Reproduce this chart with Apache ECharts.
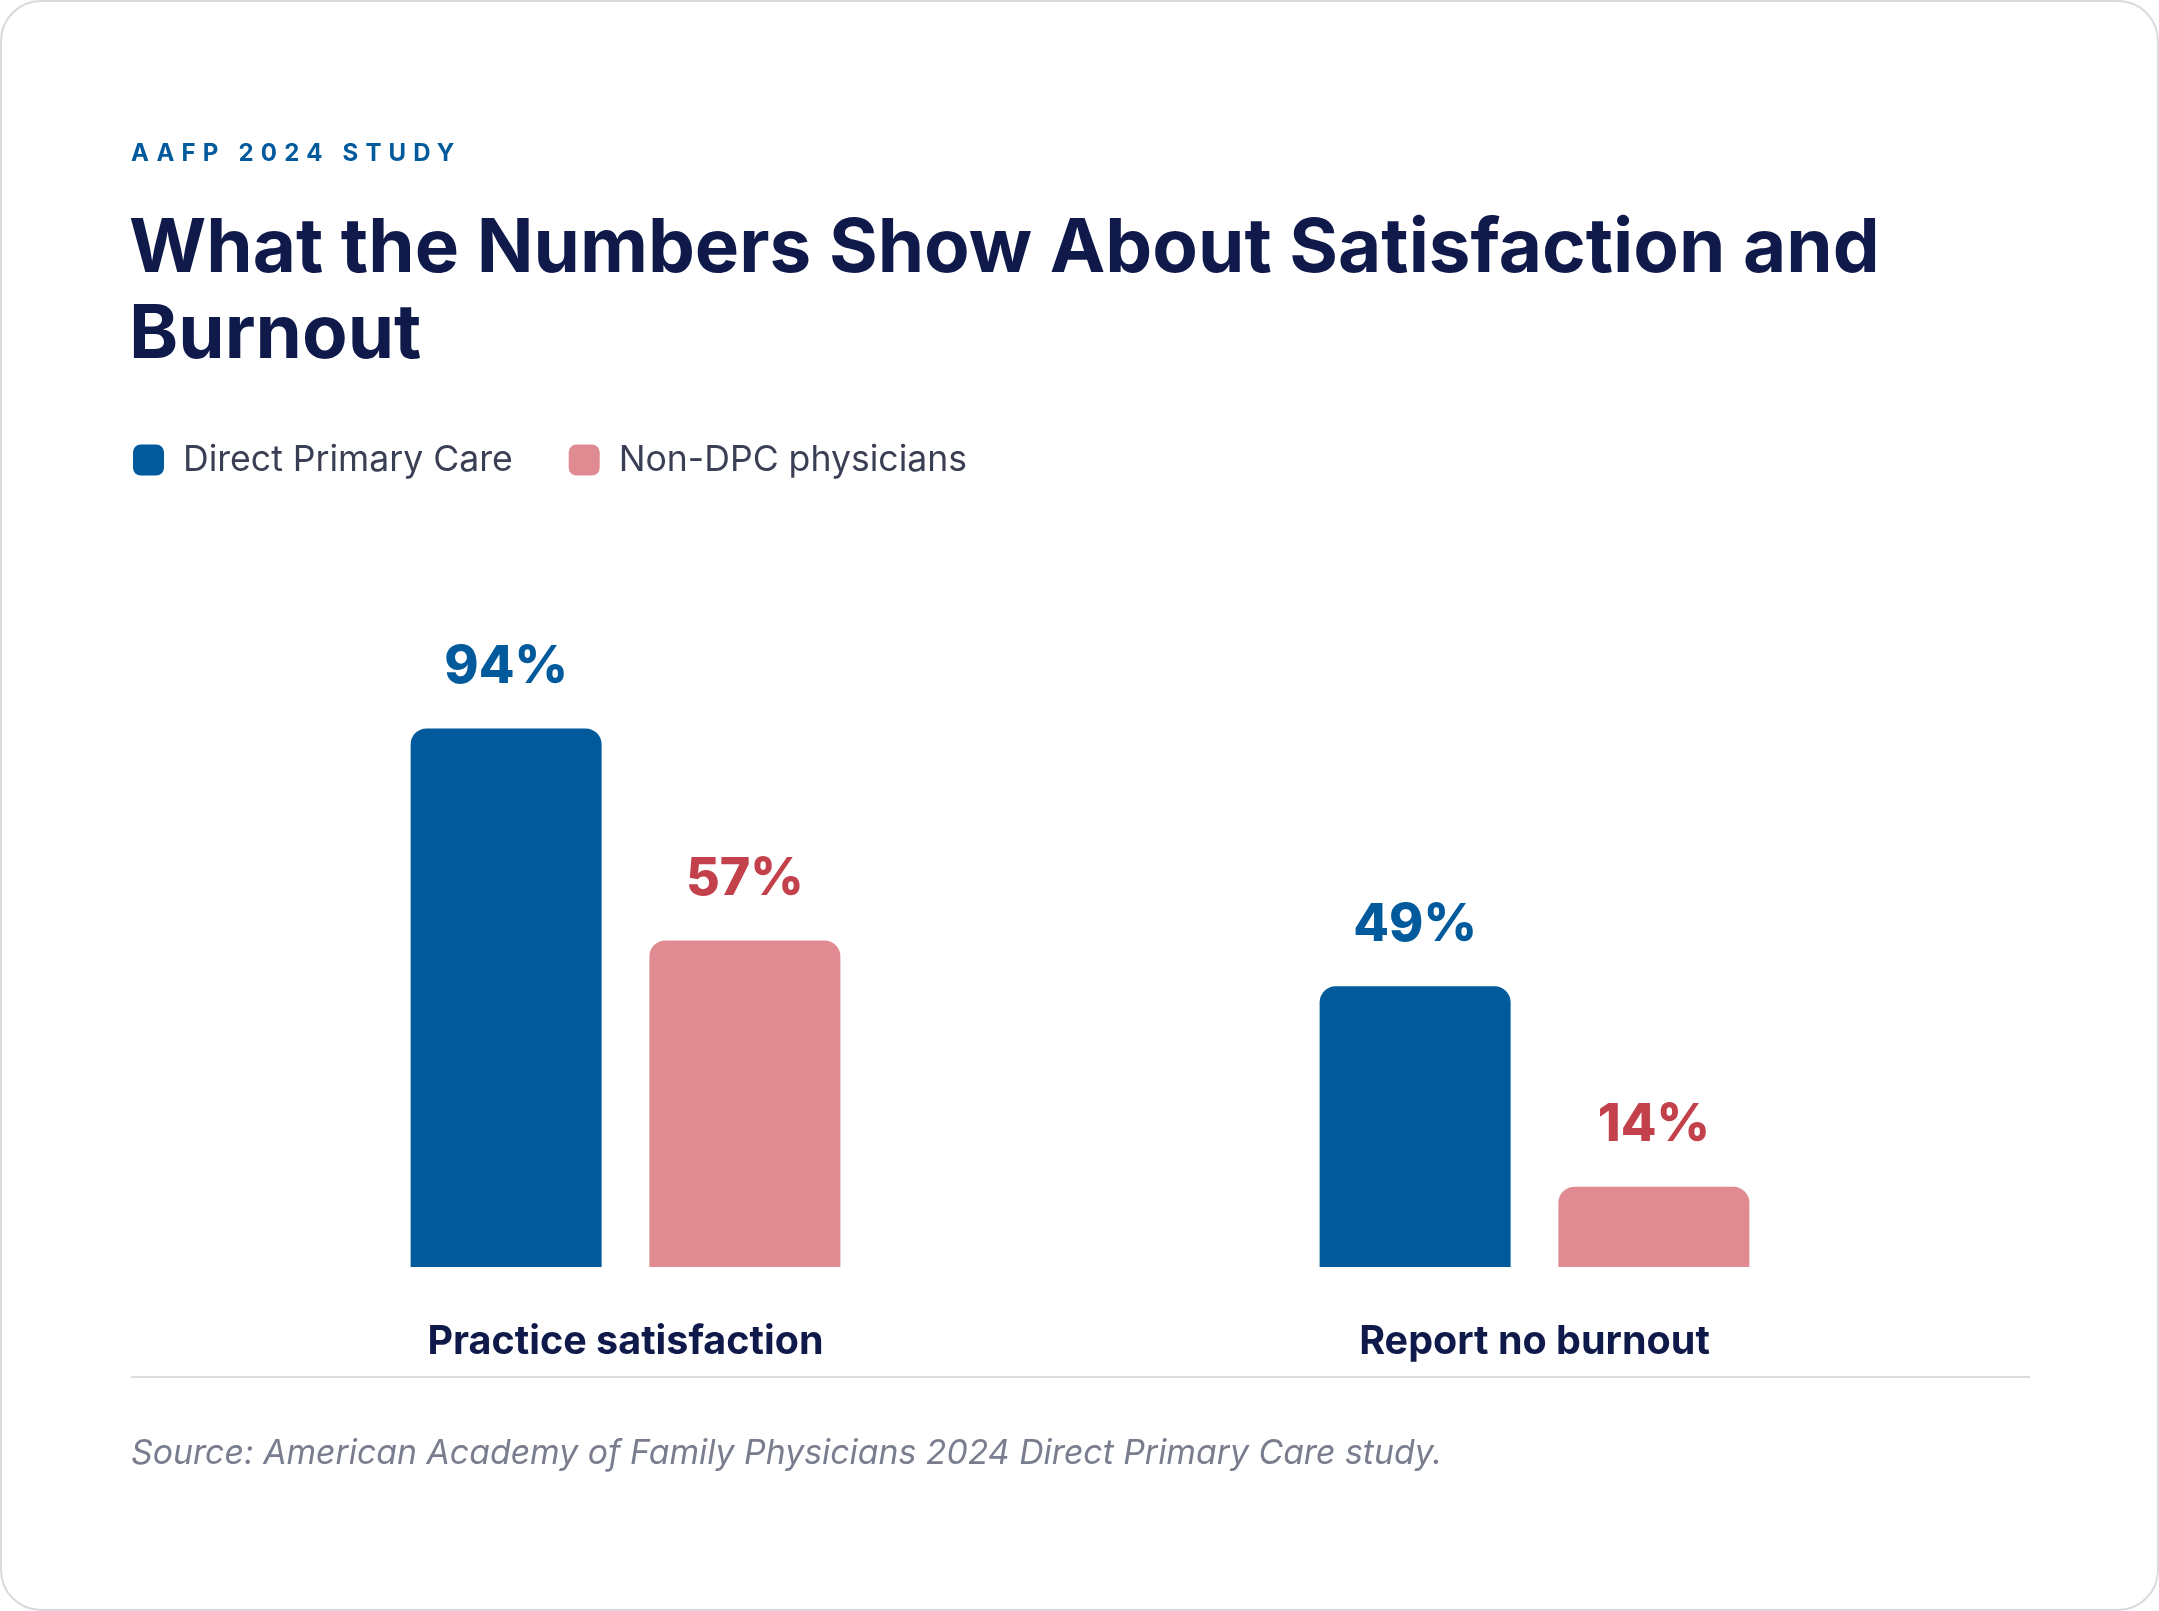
<!DOCTYPE html>
<html><head><meta charset="utf-8">
<script src="https://cdn.jsdelivr.net/npm/echarts@6/dist/echarts.min.js"></script>
<style>html,body{margin:0;padding:0;background:#fff}#c{width:2159px;height:1611px}
#k{position:absolute;left:131px;top:138px;font:700 24px Inter,'Noto Sans',sans-serif;letter-spacing:7.2px;color:#005a9c;z-index:5}</style>
</head><body><div id="k">AAFP 2024 STUDY</div><div id="c"></div>
<script>
const categories = ["Practice satisfaction", "Report no burnout"];
const dpcValues = [94, 49];
const nonDpcValues = [57, 14];
const seriesNames = ["Direct Primary Care", "Non-DPC physicians"];

const F = "Inter, 'Noto Sans', sans-serif";
const navy = "#0f1a4b", blue = "#005a9c", pink = "#df8b91", red = "#c3414b";
const chart = echarts.init(document.getElementById('c'));
chart.setOption({
  animation: false,
  graphic: [
    {type:'rect', shape:{x:1,y:1,width:2157,height:1609,r:40}, style:{fill:'#fff',stroke:'#d9d9de',lineWidth:2}, z:-10},
    {type:'text', left:129, top:207, style:{text:'What the Numbers Show About Satisfaction and\nBurnout', fill:navy, font:'700 74.5px '+F, lineHeight:86}},
    {type:'line', shape:{x1:131,y1:1377,x2:2030,y2:1377}, style:{stroke:'#dcdce2',lineWidth:2}},
    {type:'text', left:131, top:1437, style:{text:'Source: American Academy of Family Physicians 2024 Direct Primary Care study.', fill:'#7a7d8e', font:'italic 400 33.8px '+F}}
  ],
  legend: {
    left: 128, top: 437, itemWidth: 31, itemHeight: 31, itemGap: 56,
    icon: 'roundRect',
    textStyle: {fontFamily: F, fontSize: 35.6, color: '#3b3f55', padding:[0,0,0,14]},
    data: seriesNames
  },
  grid: {left: 171, right: 170, top: 694, bottom: 344, containLabel: false},
  xAxis: {
    type: 'category', data: categories,
    axisLine: {show: false}, axisTick: {show: false},
    axisLabel: {fontFamily: F, fontSize: 39.5, fontWeight: 700, color: navy, margin: 55}
  },
  yAxis: {type: 'value', min: 0, max: 100, show: false, splitLine: {show: false}},
  series: [
    {name: seriesNames[0], type: 'bar', data: dpcValues, barWidth: 191, barGap: '25%',
     itemStyle: {color: blue, borderRadius: [16,16,0,0]},
     label: {show: true, position: 'top', distance: 35, formatter: '{c}%', fontFamily: F, fontSize: 52, fontWeight: 800, color: blue}},
    {name: seriesNames[1], type: 'bar', data: nonDpcValues, barWidth: 191,
     itemStyle: {color: pink, borderRadius: [16,16,0,0]},
     label: {show: true, position: 'top', distance: 35, formatter: '{c}%', fontFamily: F, fontSize: 52, fontWeight: 800, color: red}}
  ]
});
</script></body></html>
